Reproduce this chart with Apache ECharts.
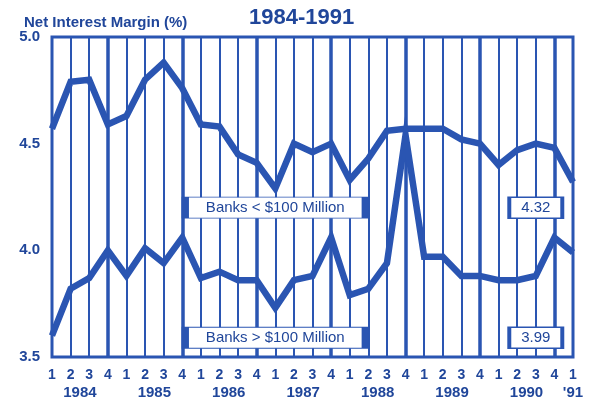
<!DOCTYPE html>
<html><head><meta charset="utf-8">
<script src="https://cdn.jsdelivr.net/npm/echarts@6/dist/echarts.min.js"></script>
<style>html,body{margin:0;padding:0;background:#fff}#c{width:589px;height:400px}</style>
</head><body><div id="c"></div>
<script>
const quarters = ['1','2','3','4','1','2','3','4','1','2','3','4','1','2','3','4','1','2','3','4','1','2','3','4','1','2','3','4','1'];
const yearLabels = ['1984','1985','1986','1987','1988','1989','1990',"'91"];
const small = [4.57,4.79,4.80,4.59,4.63,4.80,4.88,4.76,4.59,4.58,4.45,4.41,4.29,4.50,4.46,4.50,4.33,4.43,4.56,4.57,4.57,4.57,4.52,4.50,4.40,4.47,4.50,4.48,4.32];
const large = [3.60,3.82,3.87,4.00,3.88,4.01,3.94,4.06,3.87,3.90,3.86,3.86,3.73,3.86,3.88,4.06,3.79,3.82,3.94,4.54,3.97,3.97,3.88,3.88,3.86,3.86,3.88,4.06,3.99];
const seriesNames = ['Banks < $100 Million','Banks > $100 Million'];
const yTicks = [3.5,4.0,4.5,5.0];

const BLUE = '#2a55b2';
const TEXT = '#20469a';
const yearPos = yearLabels.map((y,i)=> i < yearLabels.length-1 ? i*4+1.5 : quarters.length-1);

function boxes(name, last, yv){
  return {
    symbol:'rect', silent:true,
    data:[
      {coord:[11.8, yv], value:name, symbolSize:[180,21]},
      {coord:[26, yv], value:last.toFixed(2), symbolSize:[53,21]}
    ],
    itemStyle:{color:'#fff', borderColor:BLUE, borderWidth:2.5},
    label:{show:true, position:'inside', color:TEXT, fontFamily:'Arial, Liberation Sans', fontSize:15, formatter:p=>p.value}
  };
}

const chart = echarts.init(document.getElementById('c'));
chart.setOption({
  animation:false,
  title:[
    {text:'1984-1991', left:244, top:2, textStyle:{fontFamily:'Arial, Liberation Sans', fontWeight:'bold', fontSize:22, color:TEXT}},
    {text:'Net Interest Margin (%)', left:19, top:10, textStyle:{fontFamily:'Arial, Liberation Sans', fontWeight:'bold', fontSize:15, color:TEXT}}
  ],
  grid:{left:52, right:16, top:37, bottom:40, show:true, borderColor:BLUE, borderWidth:3, backgroundColor:'transparent'},
  xAxis:[
    {type:'category', data:quarters, boundaryGap:false,
     axisLine:{show:false}, axisTick:{show:false},
     axisLabel:{color:TEXT, fontFamily:'Arial, Liberation Sans', fontWeight:'bold', fontSize:14, margin:11, interval:0},
     splitLine:{show:true, interval:0, lineStyle:{color:BLUE, width:2}}},
    {type:'value', min:0, max:quarters.length-1, position:'bottom',
     axisLine:{show:false}, axisTick:{show:false}, splitLine:{show:false},
     axisLabel:{customValues:yearPos, color:TEXT, fontFamily:'Arial, Liberation Sans', fontWeight:'bold', fontSize:15, margin:28,
       formatter:v=>{const i=yearPos.indexOf(v); return i>=0?yearLabels[i]:'';}}},
    {type:'category', data:quarters, boundaryGap:false, position:'bottom',
     axisLine:{show:false}, axisTick:{show:false}, axisLabel:{show:false},
     splitLine:{show:true, interval:(i)=>quarters[i]==='4', lineStyle:{color:BLUE, width:3.5}}}
  ],
  yAxis:{type:'value', min:3.5, max:5.0, interval:0.5,
    axisLine:{show:false}, axisTick:{show:false}, splitLine:{show:false},
    axisLabel:{color:TEXT, fontFamily:'Arial, Liberation Sans', fontWeight:'bold', fontSize:15, margin:12, formatter:v=>v.toFixed(1)}},
  series:[
    {name:seriesNames[0], type:'line', data:small, symbol:'none', lineStyle:{color:BLUE, width:6.5, join:'miter'}, z:3,
     markPoint:boxes(seriesNames[0], small[small.length-1], 4.2)},
    {name:seriesNames[1], type:'line', data:large, symbol:'none', lineStyle:{color:BLUE, width:6.5, join:'miter'}, z:3,
     markPoint:boxes(seriesNames[1], large[large.length-1], 3.59)}
  ]
});
</script></body></html>
